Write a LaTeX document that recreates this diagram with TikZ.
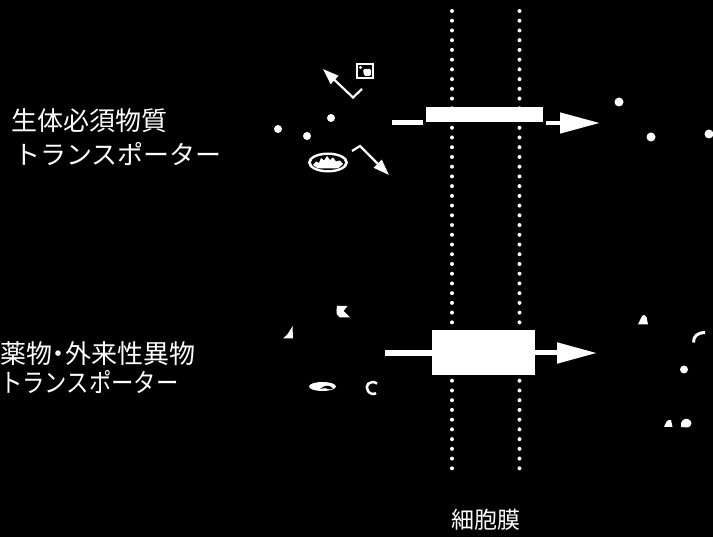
\documentclass[tikz,border=0pt]{standalone}
\usepackage{fontspec}
\newfontfamily\jpfont{Noto Sans CJK JP}
\usetikzlibrary{arrows.meta}

\begin{document}
\begin{tikzpicture}[x=1pt,y=-1pt,
  label/.style={text=white,font=\jpfont\fontsize{26}{30}\selectfont,inner sep=0pt,anchor=base west},
  dotline/.style={white,line width=4pt,line cap=round,dash pattern=on 0pt off 9.73pt},
  carrier/.style={fill=white,draw=none,inner sep=0pt},
  flow/.style={white,line width=5pt},
  bigtip/.style={-{Triangle[length=40pt,width=20pt]}},
  molecule/.style={fill=white},
  turn/.style={white,line width=2.2pt,line join=miter,-{Triangle[length=16pt,width=11pt]}}
]
% canvas
\fill[black] (0,0) rectangle (713,537);
\useasboundingbox (0,0) rectangle (713,537);

% cell membrane (two dotted leaflets)
\coordinate (memLtop) at (452,11);
\coordinate (memLbot) at (452,478);
\coordinate (memRtop) at (519.5,11);
\coordinate (memRbot) at (519.5,478);
\draw[dotline] (memLtop) -- (memLbot);
\draw[dotline] (memRtop) -- (memRbot);
\node[text=white,font=\jpfont\fontsize{23}{26}\selectfont,inner sep=0pt,anchor=base] (memname) at (486,529) {細胞膜};

% transporters in the membrane
\node[carrier,minimum width=117pt,minimum height=15pt] (barA) at (484.5,114.2) {};
\node[carrier,minimum width=103pt,minimum height=45pt] (barB) at (483.5,352.5) {};

% transport arrows
\coordinate (inA) at (392,123);
\coordinate (outA) at (600,123);
\draw[flow] (inA) -- ([xshift=-3pt]inA -| barA.west);
\draw[flow,line width=4.5pt,bigtip] ([xshift=3pt]outA -| barA.east) -- (outA);

\coordinate (inB) at (385,353);
\coordinate (outB) at (597,353);
\draw[flow,line width=6pt] (inB) -- (inB -| barB.west);
\draw[flow,line width=5pt,bigtip] (outB -| barB.east) -- (outB);

% labels
\node[label] (essA) at (11,131) {生体必須物質};
\node[label] (essB) at (14,165) {トランスポーター};
\node[label] (drugA) at (0,364) {薬物\kern-6.5pt・\kern-6.5pt外来性異物};
\node[label,xscale=0.86] (drugB) at (0,393) {トランスポーター};

% essential substrates, outside
\fill[molecule] (278,129) circle[radius=4pt];
\fill[molecule] (307,136) circle[radius=4pt];
\fill[molecule] (331,118) circle[radius=4pt];

\node[carrier,minimum width=18pt,minimum height=16pt] (sq) at (365,71) {};
\fill[black] ([shift={(2,2)}]sq.north west) rectangle ([shift={(-2,-2)}]sq.south east);
\fill[white] (360.5,67.5) circle[radius=1.6pt];
\fill[white,rounded corners=1.5pt] (363,69) -- (371,69) -- (371,76) -- (364,76) -- cycle;

\fill[white] (328,162.5) ellipse[x radius=20pt,y radius=10pt];
\fill[black] (328,162.5) ellipse[x radius=17pt,y radius=7.5pt];
\fill[white] (313,165) -- (316,161.5) -- (319,163) -- (321,158) -- (324,160.5) -- (327,156)
  -- (330,160) -- (333,157.5) -- (336,161.5) -- (340,160.5) -- (343,164) -- (338,168.5)
  -- (318,168.5) -- cycle;

\coordinate (upA) at (362,89);
\coordinate (upB) at (353,97.5);
\coordinate (upC) at (323,69);
\draw[turn] (upA) -- (upB) -- (upC);
\coordinate (dnA) at (352,151);
\coordinate (dnB) at (360,146);
\coordinate (dnC) at (389,175);
\draw[turn] (dnA) -- (dnB) -- (dnC);

% essential substrates, inside
\fill[molecule] (619,102) circle[radius=4.5pt];
\fill[molecule] (651,137) circle[radius=4.5pt];
\fill[molecule] (709,134) circle[radius=4.5pt];

% drugs and xenobiotics, outside
\fill[molecule] (283,338.5) .. controls (288,334) .. (292.5,326) -- (293,338.5) -- cycle;
\fill[molecule] (337,306) -- (347.5,306) -- (343.5,311) -- (350,317.5) -- (340,317.5)
  .. controls (336,314) .. cycle;
\fill[molecule] (322.5,386.5) ellipse[x radius=13.5pt,y radius=4.5pt];
\fill[black] (320,389) .. controls (325,384.5) and (330,385) .. (333,388.5)
  -- (330,389.5) .. controls (327,387.5) and (324,388) .. cycle;
\draw[white,line width=2.5pt] (377,383.5) .. controls (370,379) and (364,386) .. (368,391)
  .. controls (370,394) and (374,395) .. (376,393);

% drugs and xenobiotics, inside
\fill[molecule] (638,324.5) -- (648,324.5) -- (646.5,317) .. controls (643,313.5) .. cycle;
\draw[white,line width=3pt] (693.5,342.5) .. controls (693.5,336) and (697,333) .. (705,332.5);
\fill[molecule] (684,369.5) circle[radius=4pt];
\fill[molecule] (664,427) -- (672.5,427) -- (671,420) .. controls (667,420) .. cycle;
\fill[molecule] (681,427) .. controls (680,421) and (684,418) .. (688,419)
  .. controls (693,421) and (692,426) .. (688,427.5) -- cycle;
\end{tikzpicture}
\end{document}
